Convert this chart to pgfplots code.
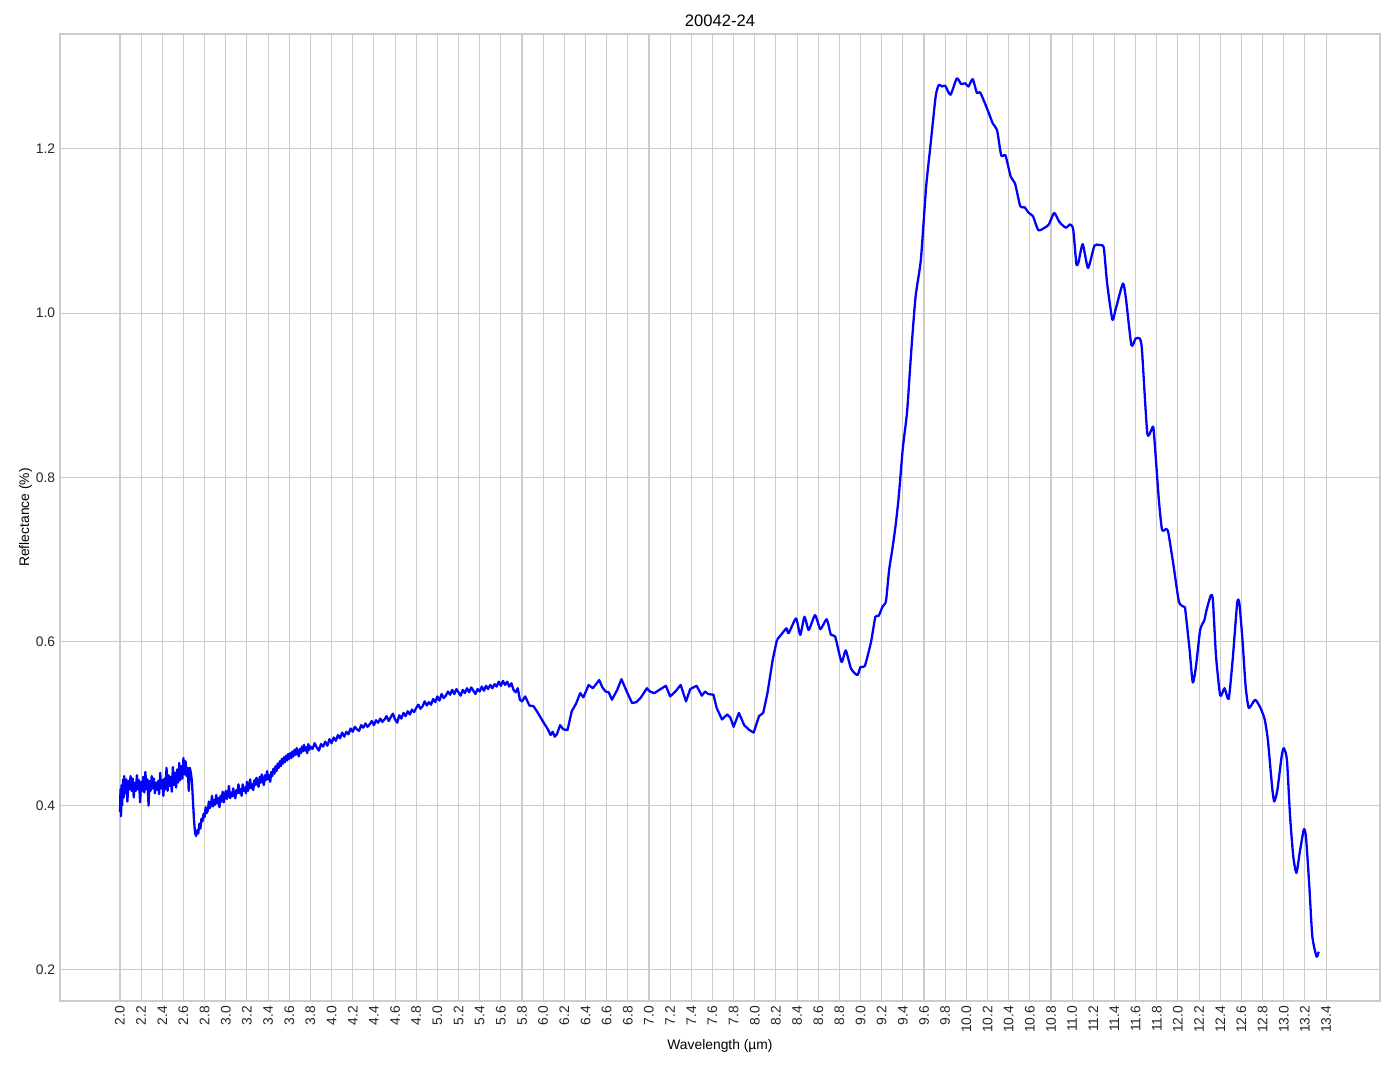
\documentclass[border=0pt]{standalone}
\usepackage{fontspec}
\setmainfont{Liberation Sans}
\usepackage{pgfplots}
\pgfplotsset{compat=1.18}
\definecolor{gridgray}{HTML}{CCCCCC}
\begin{document}
\begin{tikzpicture}
\begin{axis}[
  at={(0,0)}, anchor=south west,
  scale only axis, width=13.2in, height=9.67in,
  xmin=1.433, xmax=13.91, ymin=0.162, ymax=1.34,
  axis line style={gridgray, line width=0.9pt},
  major tick length=0pt,
  grid=major, major grid style={gridgray, line width=0.8pt},
  xtick={2.0,2.2,2.4,2.6,2.8,3.0,3.2,3.4,3.6,3.8,4.0,4.2,4.4,4.6,4.8,5.0,5.2,5.4,5.6,5.8,6.0,6.2,6.4,6.6,6.8,7.0,7.2,7.4,7.6,7.8,8.0,8.2,8.4,8.6,8.8,9.0,9.2,9.4,9.6,9.8,10.0,10.2,10.4,10.6,10.8,11.0,11.2,11.4,11.6,11.8,12.0,12.2,12.4,12.6,12.8,13.0,13.2,13.4},
  ytick={0.2,0.4,0.6,0.8,1.0,1.2},
  /pgf/number format/assume math mode=true,
  xticklabel style={rotate=90, anchor=east, font=\fontsize{10}{12}\selectfont, /pgf/number format/.cd, fixed, fixed zerofill, precision=1},
  yticklabel style={font=\fontsize{10}{12}\selectfont, /pgf/number format/.cd, fixed, fixed zerofill, precision=1},
  xlabel={Wavelength (µm)}, ylabel={Reflectance (\%)},
  xlabel style={font=\fontsize{10}{12}\selectfont, yshift=2pt},
  ylabel style={font=\fontsize{10}{12}\selectfont, yshift=-4pt},
  title={20042-24}, title style={font=\fontsize{12}{14}\selectfont, yshift=-4pt},
  tick label style={color=black!85},
]
\addplot[blue, line width=1.65pt, line join=round] coordinates {
(2.000,0.392)(2.005,0.420)(2.010,0.387)(2.015,0.425)(2.020,0.400)(2.030,0.432)(2.035,0.410)(2.040,0.436)(2.050,0.415)(2.060,0.432)(2.070,0.405)(2.080,0.430)(2.090,0.420)(2.100,0.436)(2.110,0.418)(2.120,0.433)(2.130,0.410)(2.140,0.428)(2.150,0.418)(2.160,0.437)(2.170,0.420)(2.180,0.431)(2.190,0.404)(2.200,0.429)(2.210,0.418)(2.220,0.435)(2.230,0.416)(2.240,0.441)(2.250,0.420)(2.260,0.432)(2.270,0.400)(2.280,0.430)(2.290,0.418)(2.300,0.436)(2.310,0.421)(2.320,0.433)(2.330,0.415)(2.340,0.428)(2.350,0.419)(2.360,0.430)(2.370,0.414)(2.380,0.440)(2.390,0.421)(2.400,0.431)(2.410,0.412)(2.420,0.433)(2.430,0.420)(2.440,0.446)(2.450,0.418)(2.460,0.437)(2.470,0.424)(2.480,0.435)(2.490,0.417)(2.500,0.447)(2.510,0.425)(2.520,0.440)(2.530,0.422)(2.540,0.444)(2.550,0.428)(2.560,0.452)(2.570,0.431)(2.580,0.448)(2.590,0.433)(2.600,0.458)(2.610,0.438)(2.620,0.454)(2.630,0.436)(2.640,0.446)(2.650,0.418)(2.660,0.446)(2.670,0.440)(2.680,0.430)(2.690,0.405)
(2.70,0.382)(2.71,0.366)(2.72,0.363)(2.73,0.370)(2.74,0.366)(2.75,0.378)(2.76,0.372)(2.77,0.384)(2.78,0.381)(2.79,0.390)(2.80,0.386)(2.81,0.398)(2.82,0.391)(2.83,0.394)(2.84,0.405)(2.85,0.397)(2.86,0.401)(2.87,0.412)(2.88,0.399)(2.89,0.407)(2.90,0.401)(2.91,0.413)(2.92,0.403)(2.93,0.409)(2.94,0.398)(2.95,0.412)(2.96,0.405)(2.97,0.417)(2.98,0.404)(2.99,0.412)(3.00,0.418)
(3.01,0.408)(3.02,0.413)(3.03,0.424)(3.04,0.409)(3.05,0.416)(3.06,0.411)(3.07,0.421)(3.08,0.414)(3.09,0.409)(3.10,0.419)(3.11,0.415)(3.12,0.426)(3.13,0.415)(3.14,0.420)(3.15,0.412)(3.16,0.426)(3.17,0.418)(3.18,0.422)(3.19,0.415)(3.20,0.429)(3.21,0.418)(3.22,0.423)(3.23,0.432)(3.24,0.421)(3.25,0.426)(3.26,0.419)(3.27,0.431)(3.28,0.425)(3.29,0.434)(3.30,0.427)(3.31,0.423)(3.32,0.435)(3.33,0.428)(3.34,0.438)(3.35,0.430)(3.36,0.425)(3.37,0.437)(3.38,0.431)(3.39,0.442)(3.40,0.432)(3.41,0.437)(3.42,0.429)(3.43,0.441)(3.44,0.436)(3.45,0.445)(3.46,0.439)(3.47,0.448)(3.48,0.442)(3.49,0.451)(3.50,0.446)(3.51,0.454)(3.52,0.448)(3.53,0.457)(3.54,0.451)(3.55,0.459)(3.56,0.453)(3.57,0.461)(3.58,0.455)(3.59,0.463)(3.60,0.457)(3.61,0.464)(3.62,0.458)(3.63,0.466)(3.64,0.460)(3.65,0.468)(3.66,0.462)(3.67,0.470)(3.68,0.465)(3.69,0.460)(3.70,0.469)(3.71,0.464)(3.72,0.472)(3.73,0.466)(3.74,0.474)(3.75,0.467)(3.76,0.471)(3.77,0.464)(3.78,0.475)(3.79,0.468)(3.80,0.472)
(3.82,0.469)(3.84,0.476)(3.86,0.471)(3.88,0.467)(3.90,0.475)(3.92,0.472)(3.94,0.478)(3.96,0.473)(3.98,0.481)(4.00,0.476)(4.02,0.483)(4.04,0.479)(4.06,0.486)(4.08,0.482)(4.10,0.489)(4.12,0.484)(4.14,0.490)(4.16,0.487)(4.18,0.494)(4.20,0.490)(4.22,0.496)(4.24,0.493)(4.26,0.491)(4.28,0.498)(4.30,0.495)(4.32,0.500)(4.34,0.496)(4.36,0.499)(4.38,0.503)(4.40,0.498)(4.42,0.504)(4.44,0.501)(4.46,0.506)(4.48,0.502)(4.50,0.505)(4.52,0.509)(4.54,0.503)(4.56,0.508)(4.58,0.512)(4.60,0.505)(4.62,0.501)(4.64,0.510)(4.66,0.506)(4.68,0.513)(4.70,0.509)(4.72,0.515)(4.74,0.511)(4.76,0.517)(4.78,0.514)(4.80,0.519)(4.82,0.523)(4.84,0.518)(4.86,0.521)(4.88,0.527)(4.90,0.522)(4.92,0.526)(4.94,0.523)(4.96,0.530)(4.98,0.526)(5.00,0.533)(5.02,0.528)(5.04,0.536)(5.06,0.531)(5.08,0.534)(5.10,0.539)(5.12,0.535)(5.14,0.541)(5.16,0.536)(5.18,0.542)(5.20,0.538)(5.22,0.534)(5.24,0.541)(5.26,0.537)(5.28,0.543)(5.30,0.538)(5.32,0.544)(5.34,0.540)(5.36,0.536)(5.38,0.542)(5.40,0.539)(5.42,0.545)(5.44,0.540)(5.46,0.546)(5.48,0.542)(5.50,0.547)(5.52,0.543)(5.54,0.548)(5.56,0.545)(5.58,0.551)(5.60,0.546)(5.62,0.552)(5.64,0.547)(5.66,0.551)(5.68,0.545)(5.70,0.549)(5.72,0.541)(5.74,0.538)(5.76,0.543)(5.78,0.529)(5.80,0.527)
(5.83,0.533)(5.87,0.522)(5.91,0.521)(5.95,0.513)(6.00,0.502)(6.04,0.494)(6.07,0.486)(6.09,0.490)(6.11,0.484)(6.13,0.487)(6.16,0.498)(6.19,0.493)(6.23,0.492)(6.27,0.515)(6.31,0.524)(6.35,0.537)(6.38,0.532)(6.43,0.547)(6.47,0.543)(6.50,0.548)(6.53,0.553)(6.56,0.544)(6.59,0.539)(6.62,0.538)(6.65,0.529)(6.70,0.541)(6.74,0.554)(6.79,0.539)(6.84,0.525)(6.88,0.526)(6.92,0.531)(6.98,0.543)(7.01,0.539)(7.05,0.537)(7.11,0.542)(7.16,0.546)(7.20,0.533)(7.25,0.539)(7.30,0.547)(7.35,0.527)(7.39,0.542)(7.45,0.546)(7.50,0.534)(7.53,0.539)(7.56,0.536)(7.61,0.535)(7.64,0.519)(7.69,0.505)(7.74,0.511)(7.77,0.507)(7.80,0.496)(7.85,0.513)(7.90,0.498)(7.95,0.492)(7.99,0.489)(8.04,0.509)(8.08,0.513)(8.12,0.537)(8.17,0.578)(8.21,0.602)
};
\addplot[blue, line width=1.65pt, line join=round, smooth, tension=0.35] coordinates {
(8.21,0.602)(8.26,0.610)(8.30,0.616)(8.32,0.610)(8.39,0.628)(8.43,0.608)(8.47,0.630)(8.51,0.614)(8.57,0.632)(8.62,0.615)(8.68,0.627)(8.72,0.608)(8.76,0.606)(8.82,0.575)(8.86,0.589)(8.91,0.567)(8.97,0.559)(9.00,0.569)(9.04,0.570)(9.10,0.600)(9.14,0.630)(9.17,0.631)(9.21,0.643)(9.24,0.649)(9.27,0.687)(9.30,0.712)(9.33,0.740)(9.36,0.775)(9.40,0.836)(9.44,0.880)(9.48,0.955)(9.52,1.020)(9.57,1.065)(9.62,1.154)(9.66,1.203)(9.71,1.264)(9.74,1.278)(9.77,1.276)(9.80,1.277)(9.85,1.266)(9.91,1.286)(9.95,1.279)(9.99,1.280)(10.02,1.276)(10.06,1.285)(10.10,1.268)(10.13,1.269)(10.19,1.251)(10.25,1.231)(10.29,1.223)(10.33,1.192)(10.37,1.192)(10.42,1.166)(10.46,1.158)(10.51,1.130)(10.55,1.129)(10.59,1.122)(10.63,1.118)(10.68,1.101)(10.74,1.104)(10.78,1.108)(10.83,1.122)(10.88,1.111)(10.94,1.104)(10.98,1.108)(11.01,1.102)(11.04,1.060)(11.06,1.062)(11.10,1.084)(11.15,1.055)(11.21,1.082)(11.25,1.083)(11.27,1.083)(11.30,1.079)(11.33,1.037)(11.38,0.992)(11.41,1.004)(11.48,1.036)(11.51,1.016)(11.56,0.961)(11.60,0.969)(11.64,0.969)(11.66,0.955)(11.71,0.854)(11.75,0.858)(11.77,0.858)(11.82,0.772)(11.85,0.736)(11.89,0.737)(11.91,0.732)(11.96,0.691)(12.01,0.648)(12.06,0.642)(12.07,0.638)(12.11,0.590)(12.14,0.550)(12.17,0.569)(12.21,0.614)(12.25,0.626)(12.27,0.638)(12.31,0.656)(12.33,0.651)(12.36,0.582)(12.40,0.534)(12.44,0.543)(12.48,0.530)(12.52,0.582)(12.56,0.647)(12.58,0.647)(12.61,0.602)(12.64,0.545)(12.67,0.519)(12.73,0.529)(12.78,0.519)(12.82,0.505)(12.85,0.480)(12.89,0.423)(12.91,0.405)(12.94,0.419)(12.98,0.460)(13.00,0.470)(13.03,0.456)(13.06,0.387)(13.09,0.338)(13.12,0.318)(13.15,0.342)(13.19,0.371)(13.21,0.362)(13.24,0.306)(13.27,0.241)(13.31,0.216)(13.33,0.222)
};
\end{axis}
\path (-0.6in,-0.68in) rectangle (13.34in,10.01in);
\end{tikzpicture}
\end{document}
